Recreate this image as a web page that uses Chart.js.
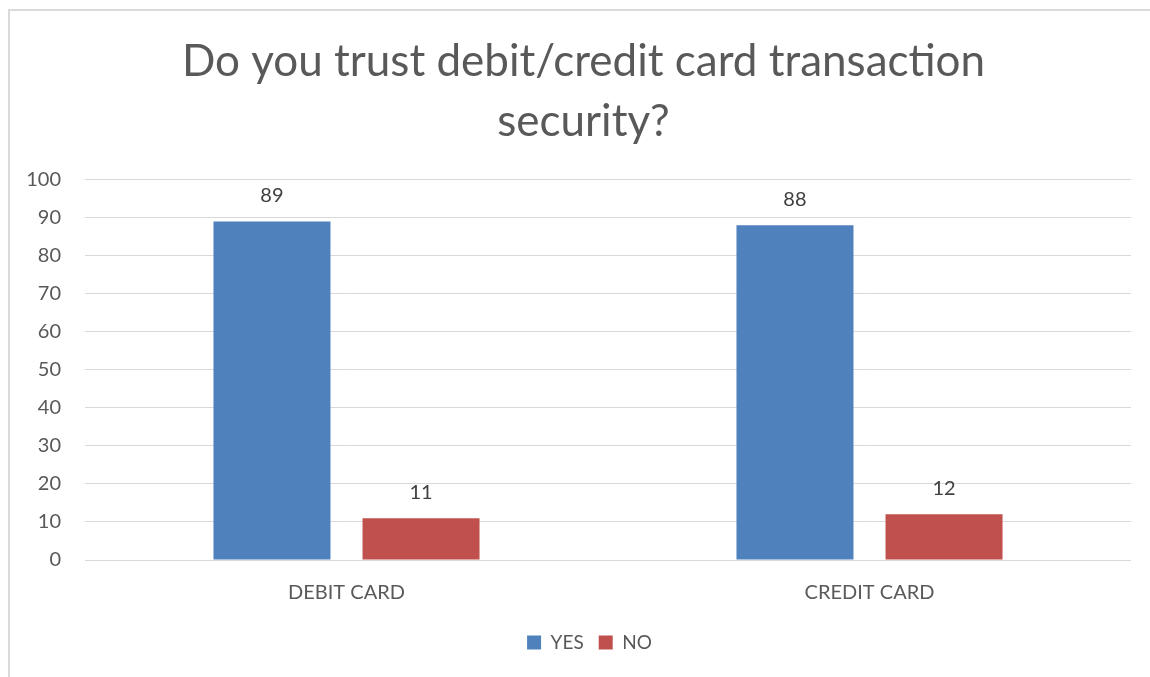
<!DOCTYPE html>
<html>
<head>
<meta charset="utf-8">
<script src="https://cdn.jsdelivr.net/npm/chart.js@4.4.1/dist/chart.umd.min.js"></script>
<style>
  html, body { margin: 0; padding: 0; background: #ffffff; overflow: hidden; }
  #frame {
    position: absolute; left: 8px; top: 9px; width: 1400px; height: 900px;
    border-top: 2px solid #d9d9d9; border-left: 2px solid #d9d9d9;
  }
  #wrap { position: absolute; left: 0; top: 0; width: 1150px; height: 677px; }
</style>
</head>
<body>
<div id="frame"></div>
<div id="wrap"><canvas id="chart" width="1150" height="677"></canvas></div>
<script>
// Survey answers, in percent
const categories = ['DEBIT CARD', 'CREDIT CARD'];
const yesValues = [89, 88];
const noValues = [11, 12];
const yTicks = [0, 10, 20, 30, 40, 50, 60, 70, 80, 90, 100];

const FONT = 'Lato, "Open Sans", sans-serif';

// Writes each bar's value above it
const valueLabels = {
  id: 'valueLabels',
  afterDatasetsDraw(chart) {
    const ctx = chart.ctx;
    ctx.save();
    ctx.font = '20px ' + FONT;
    ctx.fillStyle = '#404040';
    ctx.textAlign = 'center';
    ctx.textBaseline = 'middle';
    chart.data.datasets.forEach((ds, i) => {
      chart.getDatasetMeta(i).data.forEach((bar, j) => {
        ctx.fillText(String(ds.data[j]), bar.x, bar.y - 26);
      });
    });
    ctx.restore();
  }
};

// Centres the title and legend over the whole frame rather than the padded box
const recentre = {
  id: 'recentre',
  afterLayout(chart) {
    if (chart.titleBlock) chart.titleBlock.left += 18;
    if (chart.legend) chart.legend.left += 30;
  }
};

new Chart(document.getElementById('chart'), {
  type: 'bar',
  data: {
    labels: categories,
    datasets: [
      { label: 'YES', data: yesValues, backgroundColor: '#4f81bd' },
      { label: 'NO', data: noValues, backgroundColor: '#c0504d' }
    ]
  },
  options: {
    responsive: false,
    animation: false,
    devicePixelRatio: 1,
    layout: { padding: { left: 18, right: 19, top: 0, bottom: 15 } },
    datasets: { bar: { categoryPercentage: 0.57, barPercentage: 0.785 } },
    scales: {
      x: {
        grid: { display: false },
        border: { display: false },
        ticks: { color: '#595959', font: { family: FONT, size: 20 }, padding: 13 }
      },
      y: {
        min: 0, max: 100,
        afterFit(scale) { scale.width = 67; },
        afterBuildTicks(scale) { scale.ticks = yTicks.map(v => ({ value: v })); },
        grid: { color: '#d9d9d9', lineWidth: 1, drawTicks: false },
        border: { display: false },
        ticks: { color: '#595959', font: { family: FONT, size: 20 }, padding: 24 }
      }
    },
    plugins: {
      title: {
        display: true,
        text: ['Do you trust debit/credit card transaction', 'security?'],
        color: '#595959',
        font: { family: FONT, size: 44, weight: 'normal', lineHeight: 1.36 },
        padding: { top: 32, bottom: 28 }
      },
      legend: {
        position: 'bottom',
        labels: {
          color: '#595959',
          font: { family: FONT, size: 19 },
          boxWidth: 14, boxHeight: 14,
          padding: 15
        }
      },
      tooltip: { enabled: false }
    }
  },
  plugins: [valueLabels, recentre]
});
</script>
</body>
</html>
